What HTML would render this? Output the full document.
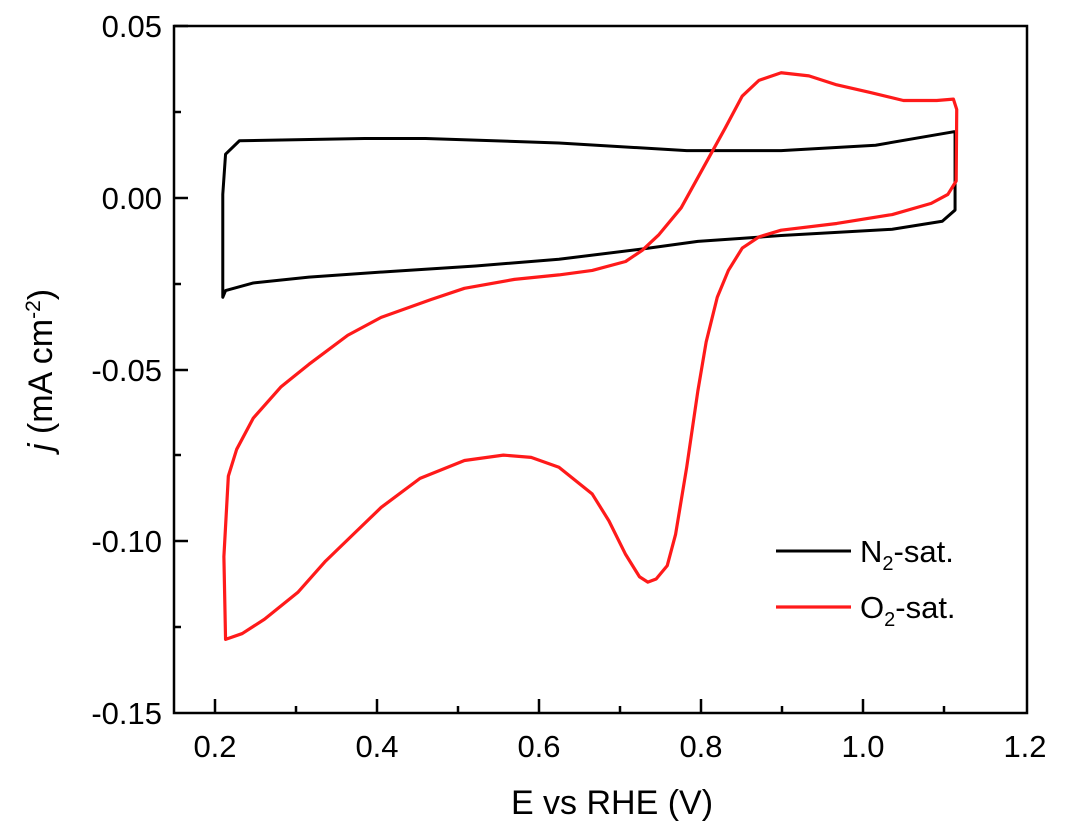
<!DOCTYPE html>
<html><head><meta charset="utf-8"><style>
html,body{margin:0;padding:0;background:#fff;}
svg{display:block;font-family:"Liberation Sans",Arial,sans-serif;}
</style></head><body>
<svg width="1080" height="836" viewBox="0 0 1080 836" xmlns="http://www.w3.org/2000/svg">
<rect x="174" y="26" width="853" height="687" fill="none" stroke="#000" stroke-width="2.5"/>
<g stroke="#000" stroke-width="2.5">
<line x1="215" y1="713" x2="215" y2="699"/><line x1="296" y1="713" x2="296" y2="706"/>
<line x1="377" y1="713" x2="377" y2="699"/><line x1="458" y1="713" x2="458" y2="706"/>
<line x1="539" y1="713" x2="539" y2="699"/><line x1="620" y1="713" x2="620" y2="706"/>
<line x1="701" y1="713" x2="701" y2="699"/><line x1="782" y1="713" x2="782" y2="706"/>
<line x1="863" y1="713" x2="863" y2="699"/><line x1="944" y1="713" x2="944" y2="706"/>
<line x1="174" y1="26" x2="188" y2="26"/><line x1="174" y1="112" x2="181" y2="112"/>
<line x1="174" y1="198" x2="188" y2="198"/><line x1="174" y1="284" x2="181" y2="284"/>
<line x1="174" y1="370" x2="188" y2="370"/><line x1="174" y1="455" x2="181" y2="455"/>
<line x1="174" y1="541" x2="188" y2="541"/><line x1="174" y1="627" x2="181" y2="627"/>
</g>
<g font-size="31" fill="#000" text-anchor="end">
<text x="162" y="37">0.05</text><text x="162" y="209">0.00</text>
<text x="162" y="381">-0.05</text><text x="162" y="552">-0.10</text><text x="162" y="724">-0.15</text>
</g>
<g font-size="31" fill="#000" text-anchor="middle">
<text x="215" y="757">0.2</text><text x="377" y="757">0.4</text><text x="539" y="757">0.6</text>
<text x="701" y="757">0.8</text><text x="863" y="757">1.0</text><text x="1025" y="757">1.2</text>
</g>
<text x="612" y="814" font-size="34" text-anchor="middle">E vs RHE (V)</text>
<text transform="translate(52,370) rotate(-90)" font-size="34" text-anchor="middle"><tspan font-style="italic">j</tspan> (mA cm<tspan font-size="21" dy="-12">-2</tspan><tspan dy="12">)</tspan></text>
<g transform="translate(170,20) scale(0.5556,0.4472)" fill="none" stroke-linejoin="round">
<path vector-effect="non-scaling-stroke" stroke="#000" stroke-width="3" d="M95,620 L95,390 L100,300 L125,270 L350,265 L460,265 L700,275 L930,292 L1100,292 L1270,280 L1410,250 L1413,250 L1413,425 L1390,450 L1300,468 L1100,482 L950,495 L850,512 L700,535 L550,550 L400,562 L250,575 L150,588 L100,605 Z"/>
<path vector-effect="non-scaling-stroke" stroke="#ff1a1a" stroke-width="3.2" d="M100,1385 L97,1200 L105,1020 L120,960 L150,890 L200,820 L250,770 L320,705 L380,665 L470,625 L530,600 L620,580 L700,570 L760,560 L820,540 L850,515 L880,480 L920,420 L960,330 L1000,240 L1030,170 L1060,135 L1100,118 L1150,125 L1200,145 L1260,162 L1320,180 L1380,180 L1410,177 L1416,200 L1415,360 L1400,390 L1370,410 L1300,435 L1200,455 L1100,470 L1060,485 L1030,510 L1005,560 L985,620 L965,720 L950,830 L930,1000 L910,1150 L895,1220 L875,1250 L860,1257 L845,1245 L820,1195 L790,1120 L760,1060 L700,1000 L650,978 L600,973 L530,985 L450,1025 L380,1090 L330,1150 L280,1210 L230,1280 L170,1340 L130,1372 Z"/>
</g>
<line x1="776" y1="551" x2="851" y2="551" stroke="#000" stroke-width="3"/>
<line x1="776" y1="607" x2="851" y2="607" stroke="#ff1a1a" stroke-width="3.2"/>
<text x="860" y="562" font-size="31">N<tspan font-size="20" dy="8">2</tspan><tspan dy="-8">-sat.</tspan></text>
<text x="860" y="618" font-size="31">O<tspan font-size="20" dy="8">2</tspan><tspan dy="-8">-sat.</tspan></text>
</svg>
</body></html>
